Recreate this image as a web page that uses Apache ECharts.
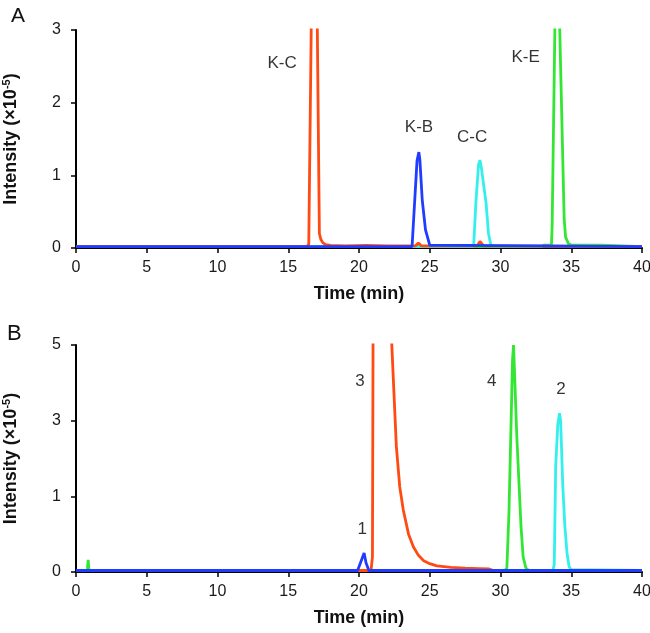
<!DOCTYPE html>
<html>
<head>
<meta charset="utf-8">
<script src="https://cdn.jsdelivr.net/npm/echarts@6/dist/echarts.min.js"></script>
<style>html,body{margin:0;padding:0;background:#fff;}#c{width:650px;height:633px;}</style>
</head>
<body>
<div id="c"></div>
<script>
// ---------- Data (time in min, intensity in x10^5) ----------
const xTicks = [0, 5, 10, 15, 20, 25, 30, 35, 40];
const topYTicks = ['0', '1', '2', '3'];
const bottomYTicks = ['0', '1', '3', '5'];   // equally spaced labels on panel B

// Panel A
const aKC = [[0,0.02],[16.3,0.02],[16.45,0.05],[16.64,3.3],[17.04,3.3],[17.2,0.2],[17.3,0.12],[17.45,0.07],[17.65,0.045],[18.0,0.035],[19.0,0.03],[20.5,0.035],[22.0,0.03],[24.0,0.03],[24.2,0.07],[24.4,0.03],[28.35,0.03],[28.55,0.09],[28.8,0.03],[40,0.02]];
const aKE = [[0,0.02],[32.9,0.02],[33.05,0.04],[33.6,0.04],[33.65,0.3],[33.87,3.4],[34.14,3.4],[34.5,0.4],[34.6,0.15],[34.8,0.06],[35.0,0.04],[37.2,0.04],[37.3,0.02],[40,0.02]];
const aCC = [[0,0.02],[28.1,0.02],[28.26,0.62],[28.45,1.15],[28.55,1.21],[28.65,1.1],[28.98,0.62],[29.15,0.2],[29.33,0.03],[40,0.02]];
const aKB = [[0,0.02],[23.75,0.02],[23.94,0.66],[24.1,1.2],[24.23,1.32],[24.3,1.22],[24.47,0.66],[24.7,0.25],[25.0,0.04],[25.1,0.02],[40,0.02]];
const aLabels = [
  {name:'K-C', t:14.56, v:2.54},
  {name:'K-B', t:24.24, v:1.66},
  {name:'C-C', t:28.0,  v:1.52},
  {name:'K-E', t:31.78, v:2.63}
];

// Panel B
const b3 = [[0,0.02],[20.85,0.02],[20.95,0.2],[21.0,6],[22.2,6],[22.45,3.9],[22.64,2.32],[22.88,1.25],[23.13,0.82],[23.5,0.5],[23.85,0.33],[24.2,0.22],[24.57,0.15],[25.0,0.11],[25.5,0.08],[26.5,0.06],[27.5,0.05],[28.5,0.045],[29.2,0.04],[29.5,0.02],[40,0.02]];
const b4 = [[0,0.02],[0.8,0.02],[0.86,0.16],[0.92,0.02],[30.3,0.02],[30.45,0.05],[30.6,0.8],[30.72,2.5],[30.85,4.6],[30.92,5.0],[31.0,4.2],[31.15,2.6],[31.3,1.4],[31.45,0.6],[31.6,0.2],[31.8,0.05],[32.0,0.02],[40,0.02]];
const b2 = [[0,0.02],[33.7,0.02],[33.8,0.1],[33.9,1.8],[34.05,2.9],[34.17,3.2],[34.25,3.0],[34.4,1.3],[34.55,0.6],[34.7,0.25],[34.85,0.07],[35.0,0.03],[40,0.02]];
const b1 = [[0,0.02],[19.9,0.02],[20.1,0.12],[20.36,0.25],[20.5,0.12],[20.7,0.02],[40,0.02]];
const bLabels = [
  {name:'3', t:20.07, v:4.03},
  {name:'1', t:20.23, v:0.56},
  {name:'4', t:29.38, v:4.03},
  {name:'2', t:34.28, v:3.82}
];

// ---------- Styling ----------
const RED = '#ff4a12', BLUE = '#1f3cff', CYAN = '#33f0ec', GREEN = '#33e633';
const FONT = "'Liberation Sans', Arial, sans-serif";

// Panel B axis labels 0,1,3,5 are equally spaced: piecewise map intensity -> axis position
const bKnots = bottomYTicks.map(Number);
function bPos(v) {
  for (let i = 1; i < bKnots.length; i++) {
    if (v <= bKnots[i] || i === bKnots.length - 1) {
      return (i - 1) + (v - bKnots[i - 1]) / (bKnots[i] - bKnots[i - 1]);
    }
  }
}
const mapB = arr => arr.map(p => [p[0], bPos(p[1])]);

function lineSeries(data, color, idx, z) {
  return {
    type: 'line', data: data, xAxisIndex: idx, yAxisIndex: idx,
    showSymbol: false, symbol: 'none', clip: true, z: z,
    lineStyle: {color: color, width: 2.8}, animation: false
  };
}
function labelSeries(list, idx, toY) {
  return {
    type: 'scatter', xAxisIndex: idx, yAxisIndex: idx, symbolSize: 0, silent: true, z: 10,
    data: list.map(l => ({name: l.name, value: [l.t, toY(l.v)]})),
    label: {show: true, position: 'inside', formatter: '{b}', color: '#000',
            fontSize: 17, fontFamily: FONT},
    animation: false
  };
}

const yName = 'Intensity (×10{sup|-5})';
const nameStyle = {
  fontSize: 18, fontWeight: 'bold', color: '#111', fontFamily: FONT,
  rich: {sup: {fontSize: 11, fontWeight: 'bold', color: '#111', fontFamily: FONT, verticalAlign: 'top', padding: [0, 0, 9, 0]}}
};
function xAxis(idx, gap) {
  return {
    type: 'value', gridIndex: idx, min: 0, max: 40, interval: 5,
    name: 'Time (min)', nameLocation: 'middle', nameGap: gap,
    nameTextStyle: {fontSize: 18, fontWeight: 'bold', color: '#111', fontFamily: FONT},
    axisLine: {onZero: false, lineStyle: {color: '#000', width: 2}},
    axisTick: {show: true, length: 5, lineStyle: {color: '#000', width: 1.5}},
    axisLabel: {fontSize: 16, color: '#1a1a1a', fontFamily: FONT, margin: 12,
                formatter: v => String(xTicks[xTicks.indexOf(v)])},
    splitLine: {show: false}
  };
}
function yAxis(idx, labels) {
  return {
    type: 'value', gridIndex: idx, min: 0, max: labels.length - 1, interval: 1,
    name: yName, nameLocation: 'middle', nameGap: 55, nameRotate: 90,
    nameTextStyle: nameStyle,
    axisLine: {show: true, lineStyle: {color: '#000', width: 2}},
    axisTick: {show: true, length: 5, lineStyle: {color: '#000', width: 1.5}},
    axisLabel: {fontSize: 16, color: '#1a1a1a', fontFamily: FONT, margin: 15,
                formatter: v => labels[Math.round(v)]},
    splitLine: {show: false}
  };
}

const chart = echarts.init(document.getElementById('c'), null, {renderer: 'canvas'});
chart.setOption({
  backgroundColor: '#fff',
  animation: false,
  title: [
    {text: 'A', left: 6, top: 1, textStyle: {fontSize: 21, fontWeight: 'normal', color: '#111', fontFamily: FONT}},
    {text: 'B', left: 2, top: 318, textStyle: {fontSize: 22, fontWeight: 'normal', color: '#111', fontFamily: FONT}}
  ],
  grid: [
    {left: 76, right: 8, top: 30, height: 218, containLabel: false, outerBoundsMode: 'none'},
    {left: 76, right: 8, top: 345, height: 227, containLabel: false, outerBoundsMode: 'none'}
  ],
  xAxis: [xAxis(0, 37), xAxis(1, 37)],
  yAxis: [yAxis(0, topYTicks), yAxis(1, bottomYTicks)],
  series: [
    lineSeries(aKE, GREEN, 0, 2),
    lineSeries(aCC, CYAN, 0, 3),
    lineSeries(aKC, RED, 0, 4),
    lineSeries(aKB, BLUE, 0, 5),
    labelSeries(aLabels, 0, v => v),
    lineSeries(mapB(b4), GREEN, 1, 2),
    lineSeries(mapB(b2), CYAN, 1, 3),
    lineSeries(mapB(b3), RED, 1, 4),
    lineSeries(mapB(b1), BLUE, 1, 5),
    labelSeries(bLabels, 1, bPos)
  ]
});
</script>
</body>
</html>
